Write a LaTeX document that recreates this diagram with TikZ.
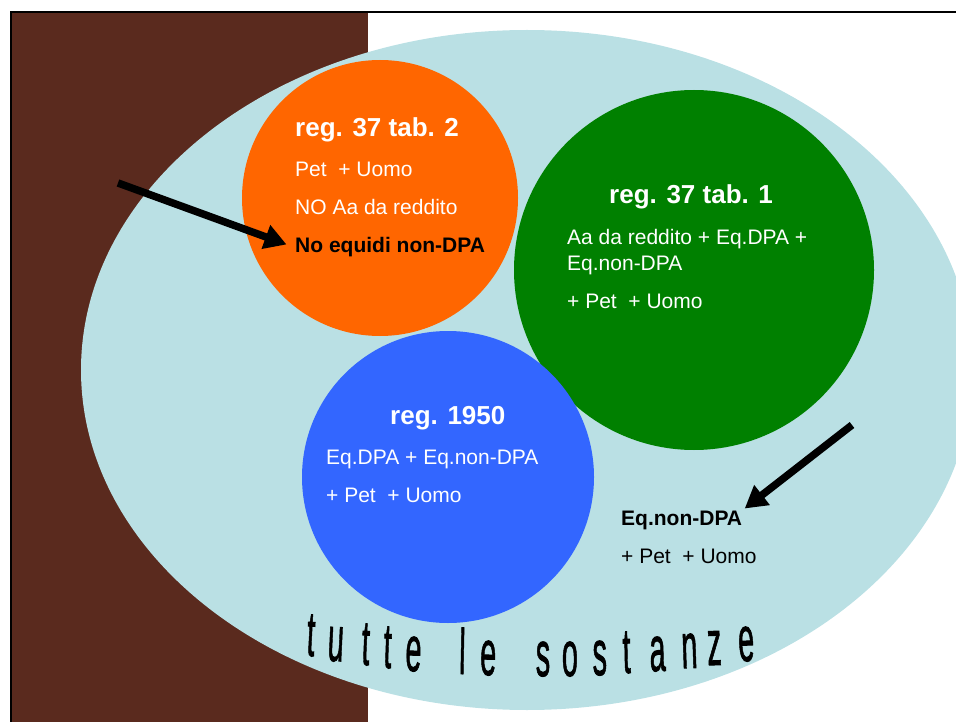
\documentclass[tikz,border=0pt]{standalone}
\usepackage{fontspec}
\usepackage{graphicx}
\setmainfont{Liberation Sans}
\newfontfamily\captionfont[FakeBold=1.5]{Liberation Sans}
\usetikzlibrary{arrows.meta}
\definecolor{soil}{HTML}{5A2A1E}
\definecolor{paleblue}{HTML}{BAE0E4}
\definecolor{setorange}{HTML}{FF6600}
\definecolor{setgreen}{HTML}{008000}
\definecolor{setblue}{HTML}{3366FF}
\newcommand{\narrowletter}[1]{\scalebox{0.45}[1]{\fontsize{64}{64}\captionfont #1}}
\begin{document}
\begin{tikzpicture}[x=1pt,y=-1pt,
  lbl/.style={anchor=base west, inner sep=0pt, font=\fontsize{21}{25}\selectfont},
  head/.style={lbl, font=\fontsize{26}{30}\selectfont\bfseries, text=white},
  body/.style={lbl, text=white},
  note/.style={lbl, font=\fontsize{21}{25}\selectfont\bfseries, text=black},
  plain/.style={lbl, text=black},
  pointer/.style={line width=7.5pt, -{Triangle[length=22pt,width=24pt]}},
  letter/.style={anchor=base, inner sep=0pt}
]
\useasboundingbox (0,0) rectangle (956,722);
\clip (0,0) rectangle (956,722);

% background strip and frame
\fill[soil] (12,13) rectangle (368,722);
\draw[line width=2.5pt] (11,722) -- (11,12) -- (956,12);

% the whole set of substances
\fill[paleblue] (527,370) ellipse [x radius=446, y radius=340];

% the three sets
\fill[setorange] (380,198) circle [radius=138];
\fill[setgreen]  (694,270) circle [radius=180];
\fill[setblue]   (448,477) circle [radius=146];

% reg. 37 tab. 2
\node[head] (o1) at (295,137) {reg. 37 tab. 2};
\node[body] (o2) at (295,177) {Pet\ \ + Uomo};
\node[body] (o3) at (295,215) {NO Aa da reddito};
\node[note] (o4) at (295,253) {No equidi non-DPA};

% reg. 37 tab. 1
\node[head] (g1) at (609,204) {reg. 37 tab. 1};
\node[body] (g2) at (567,244) {Aa da reddito + Eq.DPA +};
\node[body] (g3) at (567,271) {Eq.non-DPA};
\node[body] (g4) at (567,308) {+ Pet\ \ + Uomo};

% reg. 1950
\node[head] (b1) at (390,424) {reg. 1950};
\node[body] (b2) at (326,464) {Eq.DPA + Eq.non-DPA};
\node[body] (b3) at (326,502) {+ Pet\ \ + Uomo};

% outside the circles
\node[note]  (e1) at (621,525) {Eq.non-DPA};
\node[plain] (e2) at (621,563) {+ Pet\ \ + Uomo};

% pointers
\coordinate (a1) at (118,183);
\coordinate (a2) at (852,425);
\draw[pointer, shorten >=9pt] (a1) -- (o4.west);
\draw[pointer, shorten >=3pt] (a2) -- (e1.north east);

% arched caption: letters follow a shallow arc, nearly upright
\foreach \ch/\x/\y/\a [count=\i] in {
  t/310/656/-3.0, u/335/661/-2.7, t/365/665/-2.3, t/387/668/-2.0, e/413/671/-1.7,
  l/462/674/-1.1, e/488/675/-0.7,
  s/543/676/0, o/570/676/0.3, s/600/675/0.7, t/627/673/1.1, a/658/671/1.5,
  n/690/668/1.9, z/715/665/2.2, e/747/661/2.6}
  \node[letter, rotate=\a] (c\i) at (\x,\y) {\narrowletter{\ch}};
\end{tikzpicture}
\end{document}
